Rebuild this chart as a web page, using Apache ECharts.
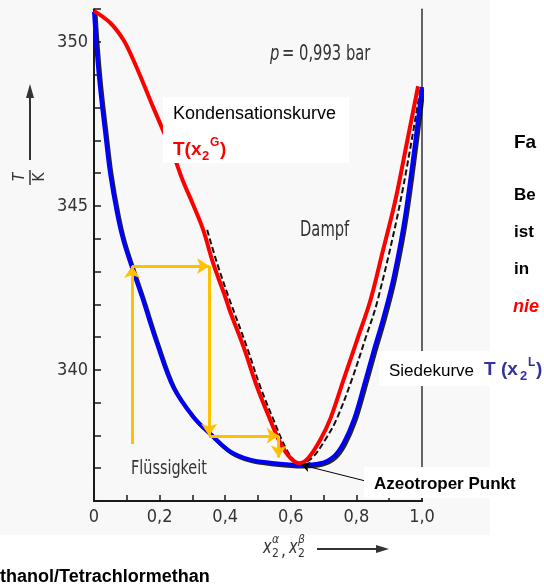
<!DOCTYPE html>
<html lang="de">
<head>
  <meta charset="UTF-8">
  <title>Siedediagramm Azeotrop</title>
  <style>
    html, body { margin: 0; padding: 0; background: #fff; }
    #chart { width: 544px; height: 588px; }
  </style>
</head>
<body>
  <div id="chart"></div>
  <script src="https://cdn.jsdelivr.net/npm/echarts@6/dist/echarts.min.js"></script>
  <script>
    // Kondensationskurve (rot)
    var xDew = [0, 0.05, 0.09, 0.12, 0.15, 0.18, 0.21, 0.24, 0.27, 0.30, 0.333, 0.363, 0.40, 0.415, 0.456, 0.497, 0.537, 0.568, 0.598, 0.625, 0.654, 0.69, 0.721, 0.761, 0.802, 0.843, 0.88, 0.919, 0.955, 0.988]
    var tDew = [350.95, 350.58, 350.06, 349.45, 348.75, 348.02, 347.32, 346.62, 345.79, 345.09, 344.27, 343.26, 342.23, 341.78, 340.7, 339.48, 338.48, 337.77, 337.32, 337.15, 337.32, 337.87, 338.52, 339.7, 340.91, 342.13, 343.6, 345.18, 346.98, 348.65]
    // Siedekurve (blau)
    var xBoil = [0, 0.008, 0.018, 0.034, 0.049, 0.07, 0.089, 0.115, 0.146, 0.192, 0.241, 0.302, 0.354, 0.415, 0.476, 0.537, 0.629, 0.69, 0.731, 0.761, 0.792, 0.822, 0.853, 0.883, 0.914, 0.95, 1.0]
    var tBoil = [350.92, 349.76, 348.63, 347.23, 346.0, 344.79, 343.96, 343.14, 342.23, 340.8, 339.48, 338.57, 338.05, 337.51, 337.26, 337.17, 337.1, 337.15, 337.36, 337.77, 338.48, 339.49, 340.6, 341.62, 342.85, 344.8, 348.63]
    // gestrichelte Originalkurve
    var xDash = [0.345, 0.375, 0.41, 0.466, 0.507, 0.547, 0.577, 0.603, 0.628, 0.665, 0.705, 0.739, 0.786, 0.826, 0.865, 0.935, 0.996]
    var tDash = [344.27, 343.26, 342.23, 340.7, 339.48, 338.48, 337.77, 337.32, 337.15, 337.32, 337.87, 338.48, 339.7, 340.91, 342.13, 345.18, 348.63]
    // gelbe Pfeile (Destillationsstufen)
    var stepX = [0.116, 0.116, 0.351, 0.351, 0.563, 0.563]
    var stepT = [337.74, 343.17, 343.17, 337.99, 337.99, 337.33]
    // azeotroper Punkt und Beschriftungsanker
    var azeo = [0.633, 337.1]
    var azeoLabel = [0.824, 336.62]

    var yLabels = [340, 345, 350]
    var xLabels = [0, 0.2, 0.4, 0.6, 0.8, 1.0]

    var narrow = '"Liberation Sans Narrow", "DejaVu Sans Condensed", sans-serif'
    var arial = '"Liberation Sans", Arial, sans-serif'

    function zip(xs, ys) {
      return xs.map(function (x, i) { return [x, ys[i]] })
    }

    var arrows = []
    for (var i = 0; i < stepX.length - 1; i++) {
      arrows.push({ coords: [[stepX[i], stepT[i]], [stepX[i + 1], stepT[i + 1]]] })
    }

    // Text als Grafik, sx = horizontale Stauchung fuer die schmale Scan-Schrift
    function txt(x, y, s, font, color, sx) {
      return {
        type: 'text', z: 100, x: x, y: y, scaleX: sx || 1,
        style: { x: 0, y: 0, text: s, font: font, fill: color || '#000', textVerticalAlign: 'middle' }
      }
    }

    var chart = echarts.init(document.getElementById('chart'))
    chart.setOption({
      animation: false,
      backgroundColor: '#fff',
      grid: { left: 94, right: 122, top: 9.2, bottom: 87 },
      xAxis: {
        type: 'value', min: 0, max: 1, interval: 0.1,
        axisLine: { lineStyle: { color: '#1a1a1a', width: 2 } },
        axisTick: { inside: true, length: 6, lineStyle: { color: '#1a1a1a', width: 1.5 } },
        splitLine: { show: false },
        axisLabel: {
          margin: 7, color: '#333', fontSize: 18, fontFamily: narrow,
          formatter: function (v) {
            var hit = xLabels.filter(function (l) { return Math.abs(l - v) < 1e-6 })
            if (!hit.length) return ''
            return v === 0 ? '0' : v.toFixed(1).replace('.', ',')
          }
        }
      },
      yAxis: [{
        type: 'value', min: 336, max: 351, interval: 1,
        axisLine: { lineStyle: { color: '#1a1a1a', width: 2 } },
        axisTick: { inside: true, length: 7, lineStyle: { color: '#1a1a1a', width: 1.5 } },
        splitLine: { show: false },
        axisLabel: {
          margin: 6, color: '#333', fontSize: 18, fontFamily: narrow,
          formatter: function (v) { return yLabels.indexOf(v) >= 0 ? String(v) : '' }
        }
      }, {
        type: 'value', min: 336, max: 351, position: 'right',
        axisLine: { show: true, lineStyle: { color: '#333', width: 1.5 } },
        axisTick: { show: false }, axisLabel: { show: false }, splitLine: { show: false }
      }],
      series: [
        {
          type: 'line', data: zip(xDash, tDash), smooth: 0.35,
          showSymbol: false, z: 2,
          lineStyle: { color: '#111', width: 2, type: [6, 3] }
        },
        {
          type: 'line', data: zip(xBoil, tBoil), smooth: 0.35,
          showSymbol: false, z: 3,
          lineStyle: { color: '#0000ff', width: 4, shadowColor: 'rgba(0,0,0,0.85)', shadowOffsetX: 1.5, shadowOffsetY: 1.5 }
        },
        {
          type: 'line', data: zip(xDew, tDew), smooth: 0.35,
          showSymbol: false, z: 4,
          lineStyle: { color: '#ff0000', width: 4 }
        },
        {
          type: 'lines', coordinateSystem: 'cartesian2d', z: 5,
          symbol: ['none', 'arrow'], symbolSize: 12,
          lineStyle: { color: '#ffc000', width: 3, opacity: 1 },
          data: arrows
        },
        {
          type: 'lines', coordinateSystem: 'cartesian2d', z: 6,
          symbol: ['none', 'arrow'], symbolSize: 8,
          lineStyle: { color: '#000', width: 1, opacity: 1 },
          data: [{ coords: [azeoLabel, azeo] }]
        }
      ],
      graphic: [
        // leicht grauer Scan-Hintergrund
        { type: 'rect', z: -10, silent: true, shape: { x: 0, y: 0, width: 490, height: 535 }, style: { fill: '#f8f8f8' } },
        // y-Achsentitel T/K mit Pfeil
        { type: 'line', z: 100, shape: { x1: 30, y1: 160, x2: 30, y2: 96 }, style: { stroke: '#333', lineWidth: 2 } },
        { type: 'polygon', z: 100, shape: { points: [[30, 84], [26, 98], [34, 98]] }, style: { fill: '#333' } },
        { type: 'text', z: 100, x: 20, y: 177, rotation: Math.PI / 2, style: { text: 'T', font: 'italic 15px ' + narrow, fill: '#333', textAlign: 'center', textVerticalAlign: 'middle' } },
        { type: 'line', z: 100, shape: { x1: 30, y1: 170, x2: 30, y2: 185 }, style: { stroke: '#333', lineWidth: 1.5 } },
        { type: 'text', z: 100, x: 40, y: 177, rotation: Math.PI / 2, style: { text: 'K', font: '15px ' + narrow, fill: '#333', textAlign: 'center', textVerticalAlign: 'middle' } },
        // x-Achsentitel
        txt(263, 548, 'x', 'italic 19px ' + narrow, '#333', 0.85),
        txt(272, 554, '2', '12px ' + narrow, '#333'),
        txt(272, 540, 'α', 'italic 12px ' + narrow, '#333'),
        txt(281, 552, ',', '17px ' + narrow, '#333'),
        txt(289, 548, 'x', 'italic 19px ' + narrow, '#333', 0.85),
        txt(298, 554, '2', '12px ' + narrow, '#333'),
        txt(298, 540, 'β', 'italic 12px ' + narrow, '#333'),
        { type: 'line', z: 100, shape: { x1: 317, y1: 549, x2: 378, y2: 549 }, style: { stroke: '#333', lineWidth: 2 } },
        { type: 'polygon', z: 100, shape: { points: [[389, 549], [376, 545], [376, 553]] }, style: { fill: '#333' } },
        // Druck, Phasen
        txt(270, 55, 'p', 'italic 21px ' + narrow, '#333', 0.78),
        txt(282, 55, '= 0,993 bar', '21px ' + narrow, '#333', 0.78),
        txt(300, 231, 'Dampf', '21px ' + narrow, '#333', 0.78),
        txt(131, 469, 'Flüssigkeit', '20px ' + narrow, '#333', 0.8),
        // Kondensationskurve
        { type: 'rect', z: 99, shape: { x: 163, y: 97, width: 186, height: 66 }, style: { fill: '#fff' } },
        txt(173, 114, 'Kondensationskurve', '18px ' + arial, '#000'),
        txt(173, 150, 'T(x', 'bold 19px ' + arial, '#ff0000'),
        txt(202, 156, '2', 'bold 13px ' + arial, '#ff0000'),
        txt(210, 143, 'G', 'bold 12px ' + arial, '#ff0000'),
        txt(220, 150, ')', 'bold 19px ' + arial, '#ff0000'),
        // Siedekurve
        { type: 'rect', z: 99, shape: { x: 379, y: 351, width: 165, height: 35 }, style: { fill: '#fff' } },
        txt(389, 371, 'Siedekurve', '17px ' + arial, '#000'),
        txt(484, 370, 'T (x', 'bold 19px ' + arial, '#33339a'),
        txt(520, 376, '2', 'bold 13px ' + arial, '#33339a'),
        txt(528, 363, 'L', 'bold 12px ' + arial, '#33339a'),
        txt(536, 370, ')', 'bold 19px ' + arial, '#33339a'),
        // Azeotroper Punkt
        { type: 'rect', z: 99, shape: { x: 364, y: 467, width: 164, height: 31 }, style: { fill: '#fff' } },
        txt(374, 484, 'Azeotroper Punkt', 'bold 17px ' + arial, '#000'),
        // abgeschnittener Text rechts
        txt(514, 143, 'Fa', 'bold 19px ' + arial, '#000'),
        txt(514, 195, 'Be', 'bold 17px ' + arial, '#000'),
        txt(514, 232, 'ist', 'bold 17px ' + arial, '#000'),
        txt(514, 269, 'in', 'bold 17px ' + arial, '#000'),
        txt(513, 307, 'nie', 'italic bold 18px ' + arial, '#ff0000'),
        // Unterschrift
        txt(0, 577, 'thanol/Tetrachlormethan', 'bold 18px ' + arial, '#000')
      ]
    })
  </script>
</body>
</html>
